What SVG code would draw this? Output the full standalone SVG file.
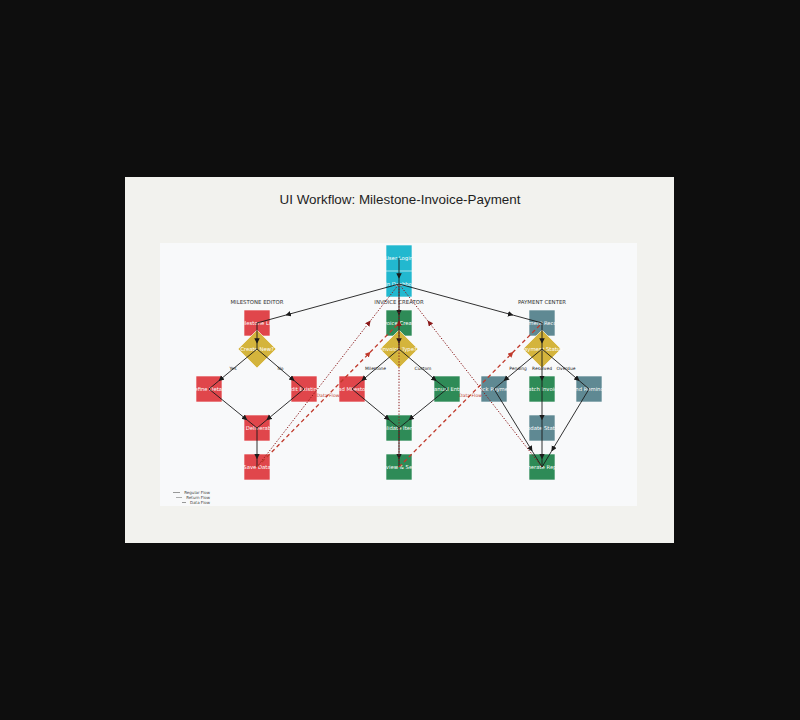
<svg xmlns="http://www.w3.org/2000/svg" width="800" height="720" viewBox="0 0 800 720">
<style>
.box{stroke:#ffffff;stroke-width:0.6}
.red{fill:#e0464b}.grn{fill:#2e8b57}.sl{fill:#5f8993}.cy{fill:#22b8cf}.gold{fill:#d4b43c;stroke:#ffffff;stroke-width:0.6}
.nt{font-family:"DejaVu Sans",sans-serif;font-size:5.3px;fill:#ffffff;text-anchor:middle}
.hd{font-family:"DejaVu Sans",sans-serif;font-size:5.4px;fill:#333333;text-anchor:middle}
.el{font-family:"DejaVu Sans",sans-serif;font-size:4.4px;fill:#222222;text-anchor:middle}
.dl{font-family:"DejaVu Sans",sans-serif;font-size:4.6px;fill:#c0392b;text-anchor:middle}
.lg{font-family:"DejaVu Sans",sans-serif;font-size:4px;fill:#444444;text-anchor:end}
.reg{fill:none;stroke:#1a1a1a;stroke-width:0.9;marker-mid:url(#ab)}
.ret{fill:none;stroke:#8b1a1a;stroke-width:1;stroke-dasharray:1.3 1.6;marker-mid:url(#ar)}
.dat{fill:none;stroke:#c0392b;stroke-width:1.3;stroke-dasharray:4 3;marker-mid:url(#ad)}
</style>
<defs>
<marker id="ab" markerUnits="userSpaceOnUse" markerWidth="7" markerHeight="7" refX="5.5" refY="2.75" orient="auto"><path d="M0,0 L5.5,2.75 L0,5.5 z" fill="#1a1a1a"/></marker>
<marker id="ar" markerUnits="userSpaceOnUse" markerWidth="7" markerHeight="7" refX="5.5" refY="2.75" orient="auto"><path d="M0,0 L5.5,2.75 L0,5.5 z" fill="#8b1a1a"/></marker>
<marker id="ad" markerUnits="userSpaceOnUse" markerWidth="7" markerHeight="7" refX="5.5" refY="2.75" orient="auto"><path d="M0,0 L5.5,2.75 L0,5.5 z" fill="#c0392b"/></marker>
</defs>
<rect x="0" y="0" width="800" height="720" fill="#0e0e0e"/>
<rect x="125" y="177" width="549" height="366" fill="#f2f2ee"/>
<rect x="160" y="243" width="477" height="263" fill="#f8f9fa"/>
<text x="400" y="204" font-family="'Liberation Sans',Arial,sans-serif" font-size="13.4" fill="#1e1e1e" text-anchor="middle">UI Workflow: Milestone-Invoice-Payment</text>
<text class="hd" x="257" y="304">MILESTONE EDITOR</text>
<text class="hd" x="399" y="304">INVOICE CREATOR</text>
<text class="hd" x="542" y="304">PAYMENT CENTER</text>

<g id="user-login"><svg x="386" y="245" width="26" height="26"><rect class="box cy" width="26" height="26"/><text class="nt" x="13" y="14.8">User Login</text></svg></g>
<g id="main-dashboard"><svg x="386" y="271" width="26" height="26"><rect class="box cy" width="26" height="26"/><text class="nt" x="13" y="14.8">Main Dashboard</text></svg></g>

<g id="milestone-list"><svg x="244" y="310" width="26" height="26"><rect class="box red" width="26" height="26"/><text class="nt" x="13" y="14.8">Milestone List</text></svg></g>
<g id="create-new"><polygon class="gold" points="257,330 276,349 257,368 238,349"/><text class="nt" x="257" y="350.8">Create New?</text></g>
<g id="define-details"><svg x="196" y="376" width="26" height="26"><rect class="box red" width="26" height="26"/><text class="nt" x="13" y="14.8">Define Details</text></svg></g>
<g id="edit-existing"><svg x="291" y="376" width="26" height="26"><rect class="box red" width="26" height="26"/><text class="nt" x="13" y="14.8">Edit Existing</text></svg></g>
<g id="set-deliverables"><svg x="244" y="415" width="26" height="26"><rect class="box red" width="26" height="26"/><text class="nt" x="13" y="14.8">Set Deliverables</text></svg></g>
<g id="save-data"><svg x="244" y="454" width="26" height="26"><rect class="box red" width="26" height="26"/><text class="nt" x="13" y="14.8">Save Data</text></svg></g>

<g id="invoice-creator"><svg x="386" y="310" width="26" height="26"><rect class="box grn" width="26" height="26"/><text class="nt" x="13" y="14.8">Invoice Creator</text></svg></g>
<g id="invoice-type"><polygon class="gold" points="399,330 418,349 399,368 380,349"/><text class="nt" x="399" y="350.8">Invoice Type?</text></g>
<g id="load-milestone"><svg x="339" y="376" width="26" height="26"><rect class="box red" width="26" height="26"/><text class="nt" x="13" y="14.8">Load Milestone</text></svg></g>
<g id="manual-entry"><svg x="434" y="376" width="26" height="26"><rect class="box grn" width="26" height="26"/><text class="nt" x="13" y="14.8">Manual Entry</text></svg></g>
<g id="validate-items"><svg x="386" y="415" width="26" height="26"><rect class="box grn" width="26" height="26"/><text class="nt" x="13" y="14.8">Validate Items</text></svg></g>
<g id="review-send"><svg x="386" y="454" width="26" height="26"><rect class="box grn" width="26" height="26"/><text class="nt" x="13" y="14.8">Review &amp; Send</text></svg></g>

<g id="payment-records"><svg x="529" y="310" width="26" height="26"><rect class="box sl" width="26" height="26"/><text class="nt" x="13" y="14.8">Payment Records</text></svg></g>
<g id="payment-status"><polygon class="gold" points="542,330 561,349 542,368 523,349"/><text class="nt" x="542" y="350.8">Payment Status</text></g>
<g id="track-payment"><svg x="481" y="376" width="26" height="26"><rect class="box sl" width="26" height="26"/><text class="nt" x="13" y="14.8">Track Payment</text></svg></g>
<g id="match-invoice"><svg x="529" y="376" width="26" height="26"><rect class="box grn" width="26" height="26"/><text class="nt" x="13" y="14.8">Match Invoice</text></svg></g>
<g id="send-reminder"><svg x="576" y="376" width="26" height="26"><rect class="box sl" width="26" height="26"/><text class="nt" x="13" y="14.8">Send Reminder</text></svg></g>
<g id="update-status"><svg x="529" y="415" width="26" height="26"><rect class="box sl" width="26" height="26"/><text class="nt" x="13" y="14.8">Update Status</text></svg></g>
<g id="generate-report"><svg x="529" y="454" width="26" height="26"><rect class="box grn" width="26" height="26"/><text class="nt" x="13" y="14.8">Generate Report</text></svg></g>

<g id="connectors">
<path class="reg" d="M399,258 L399,278.8 L399,284"/>
<path class="reg" d="M399,284 L285.4,315.2 L257,323"/>
<path class="reg" d="M399,284 L399,315.2 L399,323"/>
<path class="reg" d="M399,284 L513.4,315.2 L542,323"/>
<path class="reg" d="M257,323 L257,343.8 L257,349"/>
<path class="reg" d="M257,349 L218.6,381 L209,389"/>
<path class="reg" d="M257,349 L294.6,381 L304,389"/>
<path class="reg" d="M209,389 L247.4,420.2 L257,428"/>
<path class="reg" d="M304,389 L266.4,420.2 L257,428"/>
<path class="reg" d="M257,428 L257,459.2 L257,467"/>
<path class="reg" d="M399,323 L399,343.8 L399,349"/>
<path class="reg" d="M399,349 L361.4,381 L352,389"/>
<path class="reg" d="M399,349 L436.6,381 L447,389"/>
<path class="reg" d="M352,389 L389.6,420.2 L399,428"/>
<path class="reg" d="M447,389 L408.6,420.2 L399,428"/>
<path class="reg" d="M399,428 L399,459.2 L399,467"/>
<path class="reg" d="M542,323 L542,343.8 L542,349"/>
<path class="reg" d="M542,349 L503.6,381 L494,389"/>
<path class="reg" d="M542,349 L542,381 L542,389"/>
<path class="reg" d="M542,349 L579.6,381 L589,389"/>
<path class="reg" d="M494,389 L532.4,451.4 L542,467"/>
<path class="reg" d="M542,389 L542,420.2 L542,428"/>
<path class="reg" d="M542,428 L542,459.2 L542,467"/>
<path class="reg" d="M589,389 L551.4,451.4 L542,467"/>
<path class="ret" d="M257,467 L370.6,320.6 L399,284"/>
<path class="ret" d="M399,467 L399,320.6 L399,284"/>
<path class="ret" d="M542,467 L427.6,320.6 L399,284"/>
<path class="dat" d="M257,467 L370.6,351.8 L399,323"/>
<path class="dat" d="M399,467 L513.4,351.8 L542,323"/>
<text class="el" x="233" y="369.5">Yes</text>
<text class="el" x="280.5" y="369.5">No</text>
<text class="el" x="375.5" y="369.5">Milestone</text>
<text class="el" x="423" y="369.5">Custom</text>
<text class="el" x="518" y="369.5">Pending</text>
<text class="el" x="542" y="369.5">Resolved</text>
<text class="el" x="566" y="369.5">Overdue</text>
<text class="dl" x="328" y="396.5">Data Flow</text>
<text class="dl" x="470.5" y="396.5">Data Flow</text>
</g>

<g id="legend">
<line x1="173" y1="492.5" x2="180" y2="492.5" stroke="#555" stroke-width="0.6"/>
<text class="lg" x="210" y="494">Regular Flow</text>
<line x1="176" y1="497.5" x2="182" y2="497.5" stroke="#777" stroke-width="0.6"/>
<text class="lg" x="210" y="499">Return Flow</text>
<line x1="182" y1="502.5" x2="186" y2="502.5" stroke="#555" stroke-width="0.6"/>
<text class="lg" x="210" y="504">Data Flow</text>
</g>
</svg>
